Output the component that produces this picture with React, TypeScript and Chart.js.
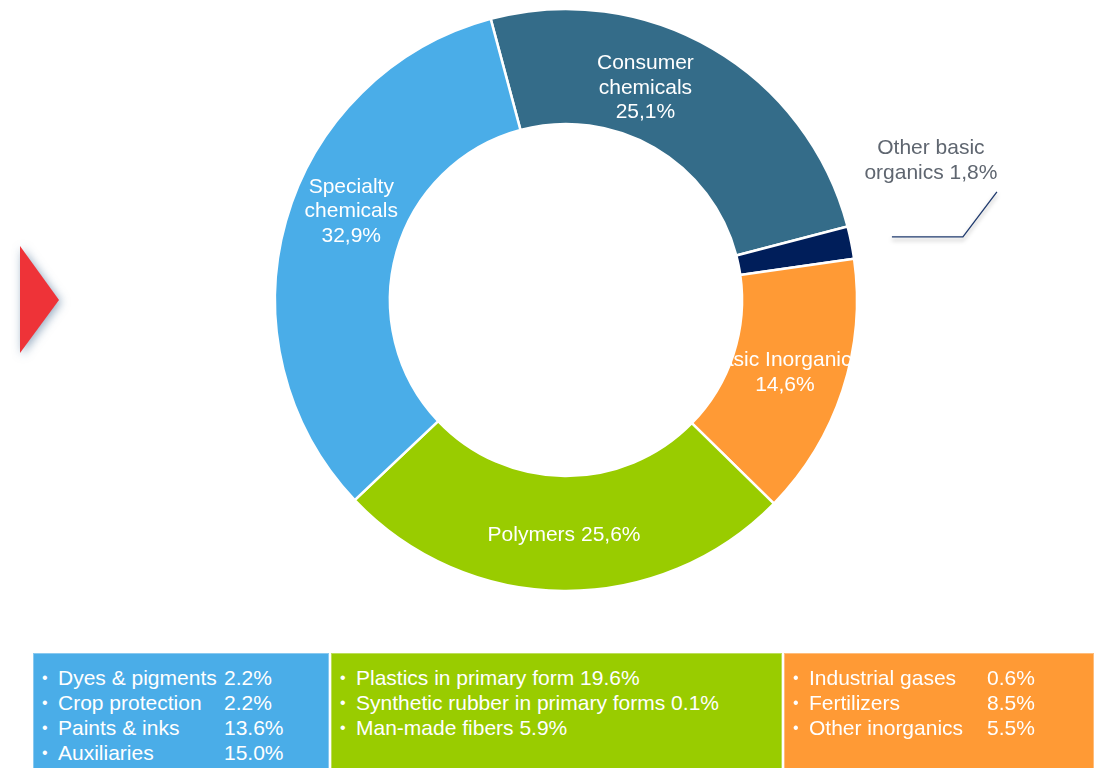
import React, { useEffect, useRef } from 'react';
import { Chart, registerables } from 'chart.js';

Chart.register(...registerables);

// ---- data ----
const categories = ['Consumer chemicals', 'Other basic organics', 'Basic Inorganics', 'Polymers', 'Specialty chemicals'];
const shares = [25.1, 1.8, 14.6, 25.6, 32.9];
const sliceColors = ['#346C89', '#001E5A', '#FF9A35', '#99CC00', '#4AADE8'];
const labelLines = [['Consumer', 'chemicals'], ['Other basic', 'organics'], ['Basic Inorganics'], ['Polymers'], ['Specialty', 'chemicals']];

const specialtyItems = ['Dyes & pigments', 'Crop protection', 'Paints & inks', 'Auxiliaries'];
const specialtyValues = [2.2, 2.2, 13.6, 15.0];
const polymerItems = ['Plastics in primary form', 'Synthetic rubber in primary forms', 'Man-made fibers'];
const polymerValues = [19.6, 0.1, 5.9];
const inorganicItems = ['Industrial gases', 'Fertilizers', 'Other inorganics'];
const inorganicValues = [0.6, 8.5, 5.5];

const fmtComma = (v: number) => v.toFixed(1).replace('.', ',') + '%';
const fmtDot = (v: number) => v.toFixed(1) + '%';

const FONT = '"Liberation Sans", Arial, sans-serif';

// label placement tweaks (relative to each arc's centroid)
const labelStyle: Record<number, { dx: number; dy: number; sameLine: boolean; outside?: boolean }> = {
  0: { dx: -38, dy: -10, sameLine: false },
  1: { dx: 136, dy: -93, sameLine: true, outside: true },
  2: { dx: -3, dy: 0, sameLine: false },
  3: { dx: 0, dy: 1.5, sameLine: true },
  4: { dx: 10, dy: -25, sameLine: false },
};

const labelPlugin = {
  id: 'sliceLabels',
  beforeDraw(chart: any) {
    const ctx = chart.ctx;
    ctx.save();
    ctx.shadowColor = 'rgba(60,100,140,0.55)';
    ctx.shadowBlur = 10;
    ctx.shadowOffsetX = 2;
    ctx.shadowOffsetY = 2;
    ctx.fillStyle = '#EE3338';
    ctx.beginPath();
    ctx.moveTo(20, 246);
    ctx.lineTo(59, 300);
    ctx.lineTo(20, 353);
    ctx.closePath();
    ctx.fill();
    ctx.restore();
  },
  afterDatasetsDraw(chart: any) {
    const ctx = chart.ctx;
    const meta = chart.getDatasetMeta(0);
    ctx.save();
    ctx.font = `21px ${FONT}`;
    ctx.textAlign = 'center';
    ctx.textBaseline = 'middle';
    const lh = 24.5;
    meta.data.forEach((arc: any, i: number) => {
      const pos = arc.tooltipPosition(false);
      const st = labelStyle[i];
      const lines = [...labelLines[i]];
      const val = fmtComma(shares[i]);
      if (st.sameLine) lines[lines.length - 1] = lines[lines.length - 1] + ' ' + val;
      else lines.push(val);
      const cx = pos.x + st.dx;
      const cy = pos.y + st.dy;
      if (st.outside) {
        // leader line
        ctx.save();
        ctx.strokeStyle = '#1F3A6E';
        ctx.lineWidth = 1.3;
        ctx.shadowColor = 'rgba(0,0,0,0.35)';
        ctx.shadowBlur = 4;
        ctx.shadowOffsetY = 3;
        ctx.beginPath();
        ctx.moveTo(pos.x + 97, pos.y - 17);
        ctx.lineTo(pos.x + 168, pos.y - 17);
        ctx.lineTo(pos.x + 202, pos.y - 62);
        ctx.stroke();
        ctx.restore();
        ctx.fillStyle = '#5F6670';
      } else {
        ctx.fillStyle = '#FFFFFF';
      }
      const n = lines.length;
      lines.forEach((t, k) => {
        ctx.fillText(t, cx, cy + (k - (n - 1) / 2) * lh);
      });
    });
    ctx.restore();
  },
};

function LegendBox(props: { left: number; width: number; color: string; items: string[]; values: number[]; valueX?: number }) {
  const { left, width, color, items, values, valueX } = props;
  return (
    <div
      style={{
        position: 'absolute',
        left,
        top: 653,
        width,
        height: 130,
        background: color,
        boxSizing: 'border-box',
        border: '1px solid rgba(255,255,255,0.35)',
        paddingTop: 10.5,
        color: '#fff',
        fontFamily: FONT,
        fontSize: 21,
      }}
    >
      {items.map((it, i) => (
        <div key={i} style={{ position: 'relative', height: 25, lineHeight: '25px', whiteSpace: 'nowrap' }}>
          <span style={{ position: 'absolute', left: 8, fontSize: 16 }}>•</span>
          <span style={{ position: 'absolute', left: 24 }}>
            {it}
            {valueX === undefined ? ' ' + fmtDot(values[i]) : ''}
          </span>
          {valueX !== undefined && <span style={{ position: 'absolute', left: valueX }}>{fmtDot(values[i])}</span>}
        </div>
      ))}
    </div>
  );
}

export default function App() {
  const ref = useRef<HTMLCanvasElement | null>(null);
  useEffect(() => {
    if (!ref.current) return;
    const chart = new Chart(ref.current, {
      type: 'doughnut',
      data: {
        labels: categories,
        datasets: [
          {
            data: shares,
            backgroundColor: sliceColors,
            borderColor: '#FFFFFF',
            borderWidth: 2.5,
            hoverOffset: 0,
          },
        ],
      },
      options: {
        responsive: false,
        animation: false,
        rotation: -15,
        cutout: '60.5%',
        radius: 291,
        layout: { padding: { left: 38, right: 0, top: 0, bottom: 168 } },
        plugins: { legend: { display: false }, tooltip: { enabled: false } },
        events: [],
      },
      plugins: [labelPlugin],
    });
    return () => chart.destroy();
  }, []);

  return (
    <div style={{ position: 'absolute', left: 0, top: 0, width: 1094, height: 768, overflow: 'hidden', background: '#fff' }}>
      <canvas ref={ref} width={1094} height={768} style={{ position: 'absolute', left: 0, top: 0 }} />
      <LegendBox left={33} width={296} color="#4AADE8" items={specialtyItems} values={specialtyValues} valueX={190} />
      <LegendBox left={331} width={451} color="#99CC00" items={polymerItems} values={polymerValues} />
      <LegendBox left={784} width={310} color="#FF9A35" items={inorganicItems} values={inorganicValues} valueX={202} />
    </div>
  );
}
